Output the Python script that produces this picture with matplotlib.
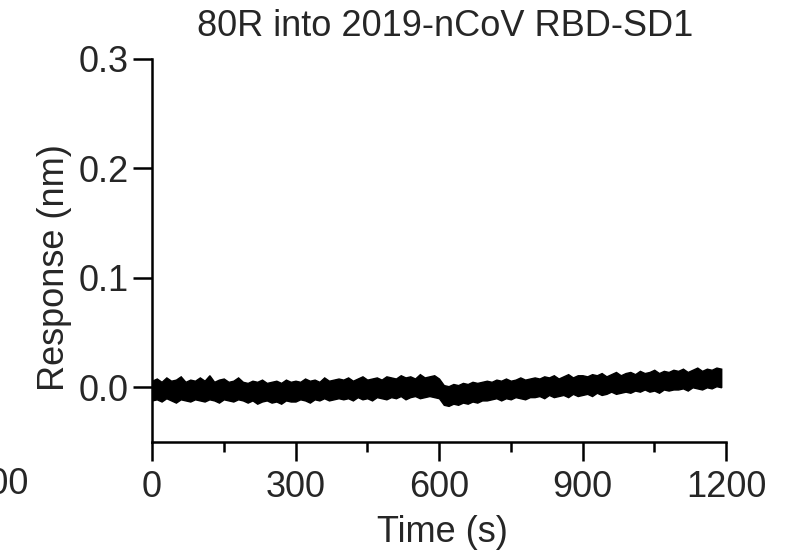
import matplotlib
matplotlib.use("Agg")
import matplotlib.pyplot as plt
import numpy as np
from matplotlib.ticker import MultipleLocator

plt.rcParams['font.family'] = ['Liberation Sans', 'DejaVu Sans']

title = "80R into 2019-nCoV RBD-SD1"
x_label = "Time (s)"
y_label = "Response (nm)"
x_ticks = [0, 300, 600, 900, 1200]
y_ticks = [0.0, 0.1, 0.2, 0.3]
y_tick_labels = ["0.0", "0.1", "0.2", "0.3"]

# time (s), every 10 s, and read-off envelope of the noisy trace (in 0.001 nm)
time_s = list(range(0, 1200, 10))
upper_m = [6, 8, 5, 9, 6, 7, 10, 5, 7, 6,
           9, 6, 11, 5, 7, 8, 5, 6, 9, 5,
           4, 6, 5, 7, 4, 5, 6, 4, 7, 5,
           6, 5, 8, 6, 7, 5, 9, 6, 7, 8,
           7, 9, 6, 8, 10, 7, 8, 9, 7, 10,
           9, 8, 11, 9, 10, 8, 12, 9, 10, 11,
           8, 2, 1, 3, 2, 4, 3, 5, 4, 5,
           6, 5, 7, 6, 8, 6, 7, 9, 7, 8,
           9, 8, 10, 9, 11, 8, 10, 12, 9, 11,
           11, 10, 12, 11, 13, 10, 12, 14, 11, 13,
           14, 12, 15, 13, 14, 16, 13, 15, 14, 16,
           15, 17, 14, 16, 18, 15, 17, 16, 18, 17]
lower_m = [-12, -11, -13, -10, -12, -14, -11, -12, -13, -11,
           -12, -13, -11, -12, -14, -11, -12, -13, -11, -12,
           -14, -12, -15, -13, -12, -14, -13, -15, -12, -13,
           -13, -11, -12, -14, -11, -12, -10, -12, -11, -10,
           -11, -10, -12, -9, -11, -10, -12, -9, -10, -11,
           -9, -10, -8, -11, -9, -8, -10, -9, -8, -9,
           -10, -16, -17, -15, -16, -14, -15, -13, -14, -12,
           -12, -11, -10, -12, -10, -11, -9, -10, -11, -9,
           -9, -8, -10, -7, -9, -8, -7, -9, -6, -8,
           -7, -6, -8, -5, -7, -6, -4, -6, -5, -4,
           -5, -3, -4, -2, -4, -3, -5, -2, -3, -2,
           -2, -1, -3, 0, -1, -2, 0, -1, 1, 0]
upper = [v / 1000 for v in upper_m]
lower = [v / 1000 for v in lower_m]

TXT = '#262626'
FS = 26

fig = plt.figure(figsize=(7.93, 5.53), dpi=100)
ax = fig.add_axes([152/793, 1-442/553, (726-152)/793, (442-59)/553])

ax.fill_between(time_s, lower, upper, color='black', linewidth=1.0,
                edgecolor='black', joinstyle='miter')

ax.set_xlim(0, 1200)
ax.set_ylim(-0.05, 0.3)
ax.set_xticks(x_ticks)
ax.set_xticklabels([str(v) for v in x_ticks])
ax.xaxis.set_minor_locator(MultipleLocator(150))
ax.set_yticks(y_ticks)
ax.set_yticklabels(y_tick_labels)

for s in ['top', 'right']:
    ax.spines[s].set_visible(False)
for s in ['left', 'bottom']:
    ax.spines[s].set_linewidth(1.8)
ax.tick_params(axis='both', which='major', direction='out', length=14, width=1.8,
               labelsize=FS, color='black', labelcolor=TXT)
ax.tick_params(axis='x', which='major', pad=6)
ax.tick_params(axis='y', which='major', pad=3)
ax.tick_params(axis='x', which='minor', direction='out', length=7, width=1.8)

fig.text(442/793, 1-533/553, x_label, fontsize=FS, color=TXT, ha='center', va='center')
fig.text(55/793, 1-268/553, y_label, fontsize=FS, color=TXT, ha='center', va='center',
         rotation=90)
fig.text(445/793, 1-27/553, title, fontsize=FS, color=TXT, ha='center', va='center')

# neighbouring panel fragment at the left edge
fig.text(29/793, 1-485/553, "1200", fontsize=FS, color=TXT, ha='right', va='center')

fig.savefig("out.png", dpi=100)
